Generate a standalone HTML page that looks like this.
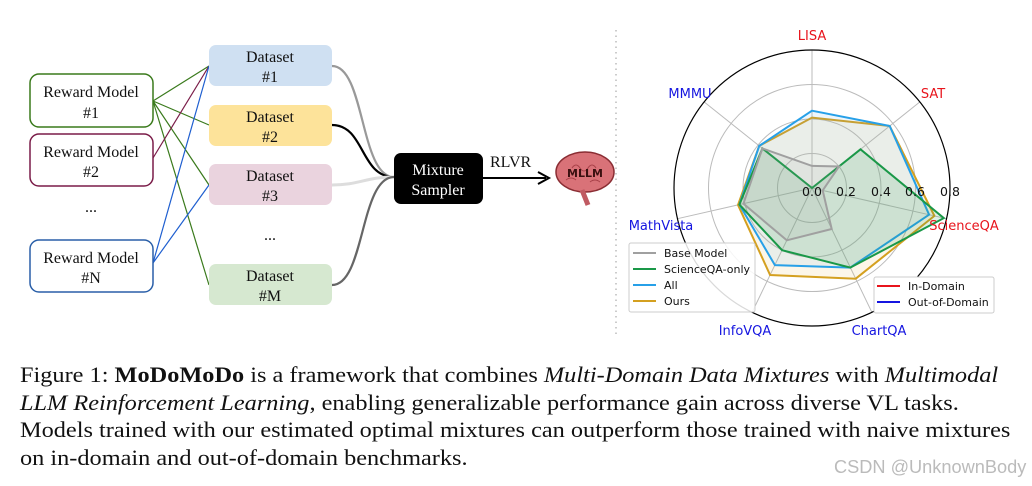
<!DOCTYPE html>
<html><head><meta charset="utf-8"><style>
body{margin:0;background:#fff;width:1032px;height:486px;overflow:hidden;position:relative}
.cap{position:absolute;left:20px;top:361px;width:1000px;font-family:"Liberation Serif",serif;font-size:22px;line-height:27.6px;color:#111;white-space:nowrap;transform:scaleX(1.105);transform-origin:0 0}
.wm{position:absolute;left:834px;top:457px;font-family:"Liberation Sans",sans-serif;font-size:18.2px;color:#bbb}
</style></head><body>
<svg width="1032" height="350" style="position:absolute;left:0;top:0" font-family="Liberation Serif, serif">
<g fill="none" stroke-width="1.2">
<path d="M153,101 L209,66 M153,101 L209,125 M153,101 L209,185 M153,101 L209,285" stroke="#3a7a1c"/>
<path d="M153,158 L209,66" stroke="#7a1c48"/>
<path d="M153,263 L209,66 M153,263 L209,185" stroke="#1f5fd0"/>
</g>
<g fill="none" stroke-width="2.2">
<path d="M332,66 C365,66 360,177 394,177" stroke="#999"/>
<path d="M332,125 C365,125 360,177 394,177" stroke="#000"/>
<path d="M332,185 C360,185 365,177 394,177" stroke="#ddd" stroke-width="3"/>
<path d="M332,285 C365,285 360,177 394,177" stroke="#666"/>
</g>
<g fill="#fff" stroke-width="1.5">
<rect x="30" y="74" width="123" height="53" rx="9" stroke="#3a7a1c"/>
<rect x="30" y="134" width="123" height="52" rx="9" stroke="#7a1c48"/>
<rect x="30" y="240" width="123" height="52" rx="9" stroke="#2a5fa8"/>
</g>
<g font-size="16" text-anchor="middle" fill="#111">
<text x="91" y="97">Reward Model</text><text x="91" y="118">#1</text>
<text x="91" y="157">Reward Model</text><text x="91" y="177">#2</text>
<text x="91" y="212">...</text>
<text x="91" y="263">Reward Model</text><text x="91" y="283">#N</text>
</g>
<rect x="209" y="45" width="123" height="41" rx="7" fill="#cfe0f2"/>
<rect x="209" y="105" width="123" height="41" rx="7" fill="#fde39a"/>
<rect x="209" y="164" width="123" height="41" rx="7" fill="#ead3de"/>
<rect x="209" y="264" width="123" height="41" rx="7" fill="#d6e8d0"/>
<g font-size="16" text-anchor="middle" fill="#111">
<text x="270" y="62">Dataset</text><text x="270" y="82">#1</text>
<text x="270" y="122">Dataset</text><text x="270" y="142">#2</text>
<text x="270" y="181">Dataset</text><text x="270" y="201">#3</text>
<text x="270" y="240">...</text>
<text x="270" y="281">Dataset</text><text x="270" y="301">#M</text>
</g>
<rect x="394" y="153" width="89" height="51" rx="7" fill="#000"/>
<text x="438" y="175" font-size="16" fill="#fff" text-anchor="middle">Mixture</text>
<text x="438" y="195" font-size="16" fill="#fff" text-anchor="middle">Sampler</text>
<text x="490" y="167" font-size="16" fill="#111">RLVR</text>
<path d="M483,178 L546,178" stroke="#000" stroke-width="2"/>
<path d="M538,172 L549,178 L538,184" fill="none" stroke="#000" stroke-width="2"/>
<g>
<ellipse cx="585" cy="172" rx="29" ry="20" fill="#d97278" stroke="#8a2d33" stroke-width="1.5"/>
<path d="M572,168 q4,-6 8,0 q4,6 8,0 q4,-6 8,0 M566,180 q5,-4 10,0 M590,182 q5,-4 10,0" fill="none" stroke="#a84048" stroke-width="1"/>
<path d="M582,190 L588,205" stroke="#c05a62" stroke-width="5"/>
<text x="585" y="177" font-family="DejaVu Sans, sans-serif" font-weight="bold" font-size="11" text-anchor="middle" fill="#3a1010">MLLM</text>
</g>
<line x1="616" y1="30" x2="616" y2="335" stroke="#bbb" stroke-width="1.5" stroke-dasharray="1.5,4"/>
<g fill="none" stroke="#bbb" stroke-width="1">
<circle cx="812" cy="188" r="34.5"/><circle cx="812" cy="188" r="69"/><circle cx="812" cy="188" r="103.5"/>
<path d="M812,188 L812,50 M812,188 L919.9,101.9 M812,188 L946.5,218.7 M812,188 L871.9,312.3 M812,188 L752.1,312.3 M812,188 L677.5,218.7 M812,188 L704.1,101.9"/>
</g>
<circle cx="812" cy="188" r="138" fill="none" stroke="#000" stroke-width="1.2"/>
<polygon points="812,117.6 889.7,126 934.4,215.9 855.7,278.7 770.1,275 738,204.9 759.2,145.9" fill="#e8c56a" fill-opacity="0.15" stroke="#d4a020" stroke-width="2"/>
<polygon points="812,110.7 889.7,126 929.1,214.7 850.3,267.6 774.9,265.1 739.4,204.6 759.2,145.9" fill="#4aa8e8" fill-opacity="0.1" stroke="#27a0e8" stroke-width="2"/>
<polygon points="812,188 860.5,149.3 943.8,218.1 850.3,267.6 782.1,250.2 739.4,204.6 762.4,148.4" fill="#2a9a50" fill-opacity="0.15" stroke="#1a9848" stroke-width="2"/>
<polygon points="812,165.9 839,166.5 822.7,190.4 831.7,229 786.8,240.3 743.4,203.7 762.4,148.4" fill="#999" fill-opacity="0.12" stroke="#a0a0a0" stroke-width="2"/>
<g font-family="DejaVu Sans, sans-serif" font-size="12.5" fill="#111" text-anchor="middle">
<text x="812" y="196">0.0</text><text x="846" y="196">0.2</text><text x="881" y="196">0.4</text><text x="915" y="196">0.6</text><text x="950" y="196">0.8</text>
</g>
<g font-family="DejaVu Sans, sans-serif" font-size="13" text-anchor="middle">
<text x="812" y="40" fill="#e8141c">LISA</text>
<text x="933" y="98" fill="#e8141c">SAT</text>
<text x="964" y="230" fill="#e8141c">ScienceQA</text>
<text x="690" y="98" fill="#1515e0">MMMU</text>
<text x="661" y="230" fill="#1515e0">MathVista</text>
<text x="745" y="335" fill="#1515e0">InfoVQA</text>
<text x="879" y="335" fill="#1515e0">ChartQA</text>
</g>
<rect x="629" y="243" width="126" height="69" rx="2" fill="#fff" fill-opacity="0.85" stroke="#ccc"/>
<g stroke-width="2">
<line x1="633" y1="253" x2="656" y2="253" stroke="#a0a0a0"/>
<line x1="633" y1="269" x2="656" y2="269" stroke="#1a9848"/>
<line x1="633" y1="285" x2="656" y2="285" stroke="#27a0e8"/>
<line x1="633" y1="301" x2="656" y2="301" stroke="#d4a020"/>
</g>
<g font-family="DejaVu Sans, sans-serif" font-size="11" fill="#111">
<text x="664" y="257">Base Model</text><text x="664" y="273">ScienceQA-only</text><text x="664" y="289">All</text><text x="664" y="305">Ours</text>
</g>
<rect x="874" y="277" width="120" height="36" rx="2" fill="#fff" stroke="#ccc"/>
<line x1="877" y1="286" x2="900" y2="286" stroke="#e8141c" stroke-width="2"/>
<line x1="877" y1="302" x2="900" y2="302" stroke="#1515e0" stroke-width="2"/>
<g font-family="DejaVu Sans, sans-serif" font-size="11" fill="#111">
<text x="908" y="290">In-Domain</text><text x="908" y="306">Out-of-Domain</text>
</g>
</svg>
<div class="cap">Figure 1: <b>MoDoMoDo</b> is a framework that combines <i>Multi-Domain Data Mixtures</i> with <i>Multimodal</i><br><i>LLM Reinforcement Learning</i>, enabling generalizable performance gain across diverse VL tasks.<br>Models trained with our estimated optimal mixtures can outperform those trained with naive mixtures<br>on in-domain and out-of-domain benchmarks.</div>
<div class="wm">CSDN @UnknownBody</div>
</body></html>
